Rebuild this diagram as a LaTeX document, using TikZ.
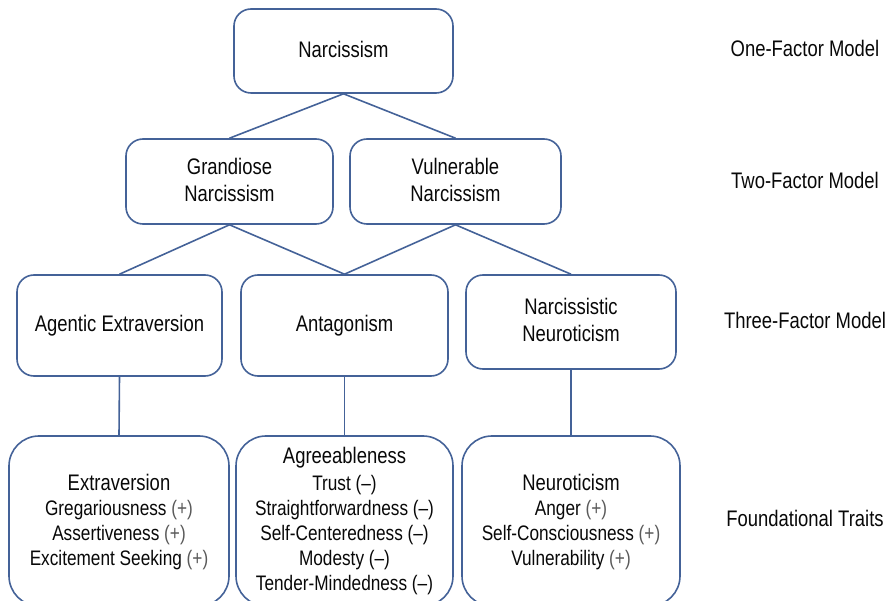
\documentclass[tikz,border=0pt]{standalone}
\usepackage{fontspec}
\setmainfont{Liberation Sans}[FakeStretch=0.82]
\definecolor{edge}{RGB}{68,98,152}
\definecolor{ink}{RGB}{8,8,8}
\definecolor{signgray}{RGB}{90,90,90}
\newcommand\plussign{\textcolor{signgray}{(+)}}
\newcommand\minussign{(--)}
\begin{document}
\begin{tikzpicture}[x=1pt,y=-1pt,
  box/.style={draw=edge, line width=1.6pt, rounded corners=17pt, inner sep=0pt},
  traitbox/.style={box, rounded corners=30pt},
  link/.style={draw=edge, line width=1.6pt},
  big/.style={text=ink, anchor=base, inner sep=0pt, font=\fontsize{22.5}{27}\selectfont},
  small/.style={text=ink, anchor=base, inner sep=0pt, font=\fontsize{21}{25}\selectfont},
]
\useasboundingbox (0,0) rectangle (889,601);
\clip (0,0) rectangle (889,601);

% factor boxes
\node[box, minimum width=219pt, minimum height=84pt] (nar) at (343.5,51) {};
\node[box, minimum width=207pt, minimum height=85pt] (gra) at (229.5,181.5) {};
\node[box, minimum width=211pt, minimum height=85pt] (vul) at (455.5,181.5) {};
\node[box, minimum width=205pt, minimum height=101pt] (age) at (119.5,325.5) {};
\node[box, minimum width=207pt, minimum height=101pt] (ant) at (344.5,325.5) {};
\node[box, minimum width=210pt, minimum height=94pt] (nne) at (571,322) {};

% foundational trait boxes
\node[traitbox, minimum width=220pt, minimum height=170pt] (ext) at (119,521) {};
\node[traitbox, minimum width=217pt, minimum height=170pt] (agr) at (344.5,521) {};
\node[traitbox, minimum width=218pt, minimum height=170pt] (neu) at (571,521) {};

% hierarchy links
\draw[link] (nar.south) -- (gra.north);
\draw[link] (nar.south) -- (vul.north);
\draw[link] (gra.south) -- (age.north);
\draw[link] (gra.south) -- (ant.north);
\draw[link] (vul.south) -- (ant.north);
\draw[link] (vul.south) -- (nne.north);
\draw[link] (age.south) -- (ext.north);
\draw[link] (ant.south) -- (agr.north);
\draw[link] (nne.south) -- (neu.north);

% box texts
\node[big] (tnar) at (343.5,58) {Narcissism};
\node[big] (tgra1) at (229.5,175) {Grandiose};
\node[big] (tgra2) at (229.5,202) {Narcissism};
\node[big] (tvul1) at (455.5,175) {Vulnerable};
\node[big] (tvul2) at (455.5,202) {Narcissism};
\node[big] (tage) at (119.5,332) {Agentic Extraversion};
\node[big] (tant) at (344.5,332) {Antagonism};
\node[big] (tnne1) at (571,315) {Narcissistic};
\node[big] (tnne2) at (571,342) {Neuroticism};

% trait lists
\node[big] (text0) at (119,490) {Extraversion};
\node[small] (text1) at (119,515) {Gregariousness \plussign};
\node[small] (text2) at (119,540) {Assertiveness \plussign};
\node[small] (text3) at (119,565) {Excitement Seeking \plussign};

\node[big] (tagr0) at (344.5,464) {Agreeableness};
\node[small] (tagr1) at (344.5,490) {Trust \minussign};
\node[small] (tagr2) at (344.5,515) {Straightforwardness \minussign};
\node[small] (tagr3) at (344.5,540) {Self-Centeredness \minussign};
\node[small] (tagr4) at (344.5,565) {Modesty \minussign};
\node[small] (tagr5) at (344.5,590) {Tender-Mindedness \minussign};

\node[big] (tneu0) at (571,490) {Neuroticism};
\node[small] (tneu1) at (571,515) {Anger \plussign};
\node[small] (tneu2) at (571,540) {Self-Consciousness \plussign};
\node[small] (tneu3) at (571,565) {Vulnerability \plussign};

% level labels
\node[big] (lvl1) at (805,57) {One-Factor Model};
\node[big] (lvl2) at (805,189) {Two-Factor Model};
\node[big] (lvl3) at (805,329) {Three-Factor Model};
\node[big] (lvl4) at (805,526) {Foundational Traits};
\end{tikzpicture}
\end{document}
